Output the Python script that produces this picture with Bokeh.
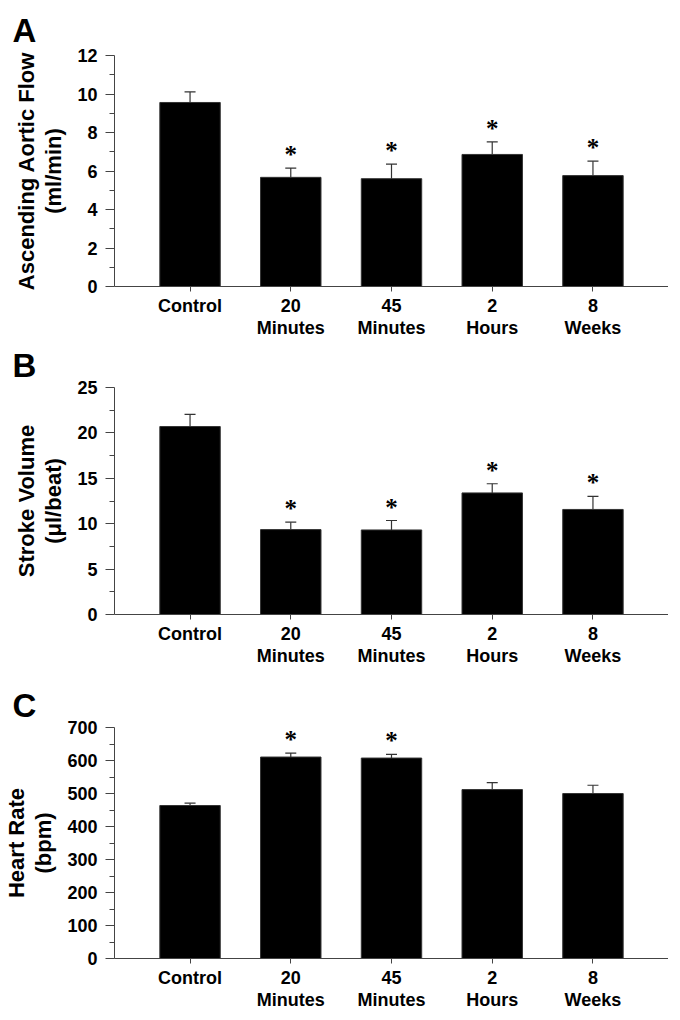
from bokeh.plotting import figure
from bokeh.layouts import column
from bokeh.models import ColumnDataSource, FixedTicker, Whisker, TeeHead, LabelSet
from bokeh.embed import file_html
from bokeh.resources import INLINE

# ---- data ----
groups = ["Control", "20\nMinutes", "45\nMinutes", "2\nHours", "8\nWeeks"]

flow_mean = [9.56, 5.67, 5.60, 6.86, 5.76]
flow_sem = [0.55, 0.48, 0.76, 0.65, 0.75]
flow_sig = ["", "*", "*", "*", "*"]

sv_mean = [20.70, 9.35, 9.31, 13.39, 11.57]
sv_sem = [1.33, 0.82, 1.04, 1.01, 1.43]
sv_sig = ["", "*", "*", "*", "*"]

hr_mean = [463.6, 610.5, 607.4, 511.9, 499.9]
hr_sem = [7.1, 12.0, 11.1, 21.1, 25.1]
hr_sig = ["", "*", "*", "", ""]

flow_ticks = [0, 2, 4, 6, 8, 10, 12]
sv_ticks = [0, 5, 10, 15, 20, 25]
hr_ticks = [0, 100, 200, 300, 400, 500, 600, 700]

FONT = "Liberation Sans"
AXIS_COLOR = "#444444"


def panel(letter, ylabel, mean, sem, sig, ticks, height, top_border, title_standoff):
    n = len(groups)
    xs = list(range(n))
    upper = [m + s for m, s in zip(mean, sem)]
    src = ColumnDataSource(dict(x=xs, mean=mean, upper=upper, sig=sig))

    p = figure(width=668, height=height,
               x_range=(-0.75, n - 0.25), y_range=(ticks[0], ticks[-1]),
               output_backend="svg", toolbar_location=None,
               min_border_left=102, min_border_right=0,
               min_border_top=top_border, min_border_bottom=0)
    p.outline_line_color = None
    p.grid.visible = False
    p.background_fill_color = "white"

    p.vbar(x="x", top="mean", bottom=0, width=0.6, source=src,
           fill_color="black", line_color="#333333", line_width=1)

    w = Whisker(base="x", lower="mean", upper="upper", source=src,
                line_color="#333333", line_width=1.2, lower_head=None,
                upper_head=TeeHead(size=11, line_color="#333333", line_width=1.2))
    p.add_layout(w)

    lab = LabelSet(x="x", y="upper", text="sig", source=src,
                   text_align="center", text_baseline="alphabetic",
                   y_offset=5, text_font_size="25px", text_font=FONT,
                   text_font_style="bold", text_color="black")
    p.add_layout(lab)

    # x axis
    xa = p.xaxis[0]
    xa.ticker = FixedTicker(ticks=xs)
    xa.major_label_overrides = {i: g for i, g in enumerate(groups)}
    xa.major_label_text_font = FONT
    xa.major_label_text_font_style = "bold"
    xa.major_label_text_font_size = "18px"
    xa.major_label_text_color = "black"
    xa.major_label_text_line_height = 1.1
    xa.major_label_standoff = 4
    xa.major_tick_out = 5
    xa.major_tick_in = 0
    xa.minor_tick_out = 0
    xa.minor_tick_in = 0
    xa.axis_line_color = AXIS_COLOR
    xa.major_tick_line_color = AXIS_COLOR

    # y axis
    ya = p.yaxis[0]
    step = ticks[1] - ticks[0]
    ya.ticker = FixedTicker(ticks=ticks,
                            minor_ticks=[t + step / 2 for t in ticks[:-1]])
    ya.major_label_text_font = FONT
    ya.major_label_text_font_style = "bold"
    ya.major_label_text_font_size = "18px"
    ya.major_label_text_color = "black"
    ya.major_label_standoff = 8
    ya.major_tick_out = 9
    ya.major_tick_in = 0
    ya.minor_tick_out = 5
    ya.minor_tick_in = 0
    ya.axis_line_color = AXIS_COLOR
    ya.major_tick_line_color = AXIS_COLOR
    ya.minor_tick_line_color = AXIS_COLOR
    ya.axis_label = ylabel
    ya.axis_label_text_font = FONT
    ya.axis_label_text_font_style = "bold"
    ya.axis_label_text_font_size = "22px"
    ya.axis_label_text_color = "black"
    ya.axis_label_text_line_height = 1.1
    ya.axis_label_standoff = 8

    p.title.text = letter
    p.title.text_font = FONT
    p.title.text_font_style = "bold"
    p.title.text_font_size = "33px"
    p.title.text_color = "black"
    p.title.align = "left"
    p.title.offset = -102
    p.title.standoff = title_standoff
    return p


pa = panel("A", "Ascending Aortic Flow\n(ml/min)", flow_mean, flow_sem, flow_sig,
           flow_ticks, 340, 55, 14)
pb = panel("B", "Stroke Volume\n(\u03bcl/beat)", sv_mean, sv_sem, sv_sig,
           sv_ticks, 328, 43, 8)
pc = panel("C", "Heart Rate\n(bpm)", hr_mean, hr_sem, hr_sig,
           hr_ticks, 344, 59, 8)

layout = column(pa, pb, pc, spacing=0)
open("out.html", "w").write(file_html(layout, INLINE))
